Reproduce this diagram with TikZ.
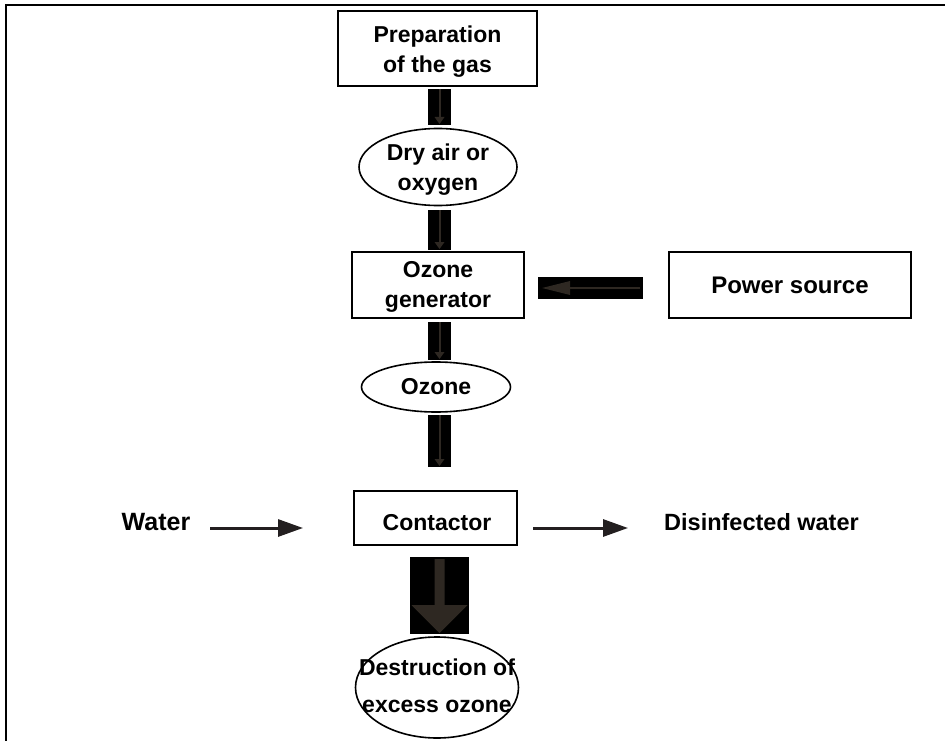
\documentclass[tikz,border=0pt]{standalone}
\usepackage{fontspec}
\setmainfont{Liberation Sans}
\usetikzlibrary{shapes.geometric,arrows.meta,calc}
\definecolor{ink}{HTML}{231F20}
\definecolor{arrowin}{HTML}{2E2822}
\begin{document}
\begin{tikzpicture}[x=1pt,y=-1pt,
  lbl/.style={font=\bfseries\fontsize{23}{30}\selectfont, align=center, text=black, inner sep=0pt},
  stepbox/.style={draw, line width=1.8pt, inner sep=0pt},
  oval/.style={ellipse, draw, line width=1.6pt, inner sep=0pt},
  blockdown/.style={fill=black, draw=none, inner sep=0pt,
    path picture={
      \draw[arrowin, line width=2pt]
        (path picture bounding box.north) -- ($(path picture bounding box.south)+(0,-6)$);
      \fill[arrowin]
        ($(path picture bounding box.south)+(-5,-8)$) -- ($(path picture bounding box.south)+(5,-8)$)
        -- ($(path picture bounding box.south)+(0,-1)$) -- cycle;
    }},
  blockbig/.style={fill=black, draw=none, inner sep=0pt,
    path picture={
      \fill[arrowin]
        ($(path picture bounding box.north)+(-5,2)$) -- ($(path picture bounding box.north)+(5,2)$)
        -- ($(path picture bounding box.south)+(5,-29)$) -- ($(path picture bounding box.south)+(28,-29)$)
        -- ($(path picture bounding box.south)+(0,-1)$) -- ($(path picture bounding box.south)+(-28,-29)$)
        -- ($(path picture bounding box.south)+(-5,-29)$) -- cycle;
    }},
  blockleft/.style={fill=black, draw=none, inner sep=0pt,
    path picture={
      \draw[arrowin, line width=2pt]
        ($(path picture bounding box.east)+(-3,0)$) -- ($(path picture bounding box.west)+(20,0)$);
      \fill[arrowin]
        ($(path picture bounding box.west)+(32,-7)$) -- ($(path picture bounding box.west)+(32,7)$)
        -- ($(path picture bounding box.west)+(4,0)$) -- cycle;
    }},
  flow/.style={ink, line width=3pt, -{Triangle[length=25pt,width=17pt]}}
]
\useasboundingbox (0,0) rectangle (945,741);

% outer frame: top and left rules only
\draw[line width=2.2pt] (945,5) -- (6,5) -- (6,741);

% stage outlines
\node[stepbox, minimum width=199pt, minimum height=75pt] (prep) at (437.5,48.5) {};
\node[oval, minimum width=158pt, minimum height=77pt] (dry) at (438,167) {};
\node[stepbox, minimum width=172pt, minimum height=66pt] (gen) at (438,285) {};
\node[stepbox, minimum width=242pt, minimum height=66pt] (power) at (790,285) {};
\node[oval, minimum width=149pt, minimum height=50pt] (ozone) at (436,387) {};
\node[stepbox, minimum width=163pt, minimum height=54pt] (contactor) at (435.5,518) {};
\node[oval, minimum width=163pt, minimum height=101pt] (destr) at (437,687.5) {};

% stage labels
\node[lbl] (preptext) at ($(prep.center)+(0,3)$) {Preparation\\of the gas};
\node[lbl] (drytext) at ($(dry.center)+(0,3)$) {Dry air or\\oxygen};
\node[lbl] (gentext) at ($(gen.center)+(0,2)$) {Ozone\\generator};
\node[lbl, font=\bfseries\fontsize{24}{30}\selectfont] (powertext) at (power.center) {Power source};
\node[lbl] (ozonetext) at (ozone.center) {Ozone};
\node[lbl, anchor=base] (contactortext) at ($(contactor.center)+(1.5,12)$) {Contactor};
\node[lbl, font=\bfseries\fontsize{23}{37}\selectfont] (destrtext) at ($(destr.center)+(0,-2)$) {Destruction of\\excess ozone};

% side labels
\node[lbl, anchor=base, font=\bfseries\fontsize{25}{30}\selectfont] (water) at (156,530) {Water};
\node[lbl, anchor=base, font=\bfseries\fontsize{23.5}{30}\selectfont] (clean) at (761.5,530) {Disinfected water};

% block arrows between stages
\node[blockdown, minimum width=23pt, minimum height=36pt] (a1) at (439.5,107) {};
\node[blockdown, minimum width=23pt, minimum height=40pt] (a2) at (439.5,230) {};
\node[blockdown, minimum width=23pt, minimum height=38pt] (a3) at (439.5,341) {};
\node[blockdown, minimum width=23pt, minimum height=52pt] (a4) at (439.5,441) {};
\node[blockbig, minimum width=59pt, minimum height=77pt] (a5) at (439.5,595.5) {};
\node[blockleft, minimum width=105pt, minimum height=22pt] (a6) at (590.5,288) {};

% water in and out of the contactor
\coordinate (winstart) at (210,528);
\coordinate (winend) at (303,528);
\coordinate (woutstart) at (533,528);
\coordinate (woutend) at (628,528);
\draw[flow] (winstart) -- (winend);
\draw[flow] (woutstart) -- (woutend);
\end{tikzpicture}
\end{document}
